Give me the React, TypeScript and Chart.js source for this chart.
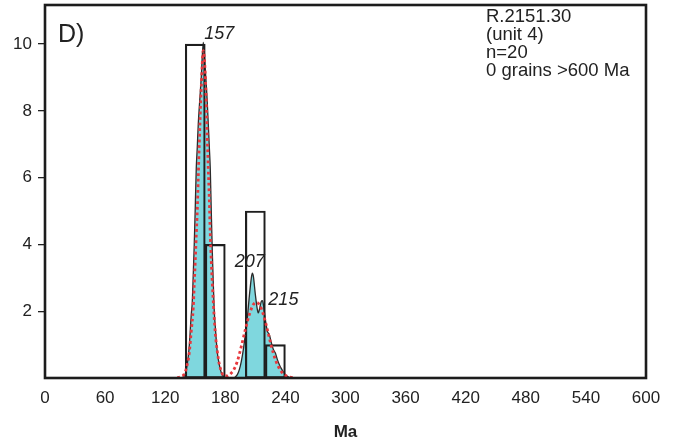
import React, { useEffect, useRef } from 'react';
import { Chart, registerables } from 'chart.js';

Chart.register(...registerables);

// ---- data ----
const xTickValues = [0, 60, 120, 180, 240, 300, 360, 420, 480, 540, 600];
const yTickValues = [2, 4, 6, 8, 10];

const binStarts = [140, 160, 200, 220];
const binWidth = 20;
const binCounts = [10, 4, 5, 1];

const kdeAges = [120, 136, 138, 140, 142, 144, 146, 147, 148, 149, 150, 151, 152, 153, 154, 156, 158, 160, 162, 164, 165, 166, 167, 168, 169, 170, 172, 174, 176, 178, 180, 188, 190, 192, 194, 196, 198, 200, 202, 204, 206, 207, 208, 210, 212, 213, 214, 216, 217, 218, 220, 222, 224, 226, 228, 230, 232, 234, 236, 238, 240, 242, 244, 246, 260];
const kdeValues = [0, 0, 0.03, 0.12, 0.4, 0.95, 1.9, 2.27, 3.1, 4.0, 5.1, 6.27, 6.9, 7.6, 8.1, 9.0, 10.05, 9.25, 8.26, 6.95, 6.27, 5.0, 3.8, 2.85, 2.0, 1.55, 0.77, 0.4, 0.16, 0.05, 0, 0, 0.03, 0.1, 0.25, 0.5, 0.85, 1.3, 1.8, 2.45, 3.0, 3.14, 3.05, 2.5, 2.05, 1.95, 2.05, 2.3, 2.32, 2.2, 1.75, 1.4, 1.3, 1.05, 0.85, 0.75, 0.55, 0.4, 0.28, 0.18, 0.1, 0.05, 0.02, 0, 0];

const pdpAges = [132, 134, 136, 138, 140, 142, 144, 146, 148, 149, 150, 151, 152, 153, 154, 156, 158, 160, 162, 163, 164, 165, 166, 168, 170, 172, 174, 176, 178, 180, 182, 184, 186, 188, 192, 196, 200, 204, 208, 211, 214, 218, 222, 226, 230, 234, 238, 242, 246, 250];
const pdpValues = [0.01, 0.02, 0.04, 0.08, 0.18, 0.4, 0.75, 1.4, 2.1, 2.8, 3.5, 4.27, 5.0, 6.0, 7.0, 8.7, 9.8, 9.1, 7.2, 6.27, 5.4, 4.3, 3.5, 2.3, 1.35, 0.8, 0.42, 0.2, 0.08, 0.07, 0.06, 0.09, 0.15, 0.22, 0.5, 0.95, 1.45, 1.9, 2.2, 2.26, 2.2, 1.9, 1.45, 0.95, 0.55, 0.28, 0.12, 0.05, 0.02, 0.01];

const peakAges = [158, 207, 217];
const peakHeights = [10.05, 3.14, 2.32];
const peakLabels = ['157', '207', '215'];

const panelLabel = 'D)';
const infoLines = ['R.2151.30', '(unit 4)', 'n=20', '0 grains >600 Ma'];
const xTitle = 'Ma';

// ---- styles ----
const FONT = '"Liberation Sans", Arial, Helvetica, sans-serif';
const TEXT = '#222222';

const overlayPlugin = {
  id: 'overlay',
  afterDatasetsDraw(chart: any) {
    const { ctx, chartArea, scales } = chart;
    const xs = scales.x;
    const ys = scales.y;
    ctx.save();
    // frame
    ctx.strokeStyle = '#1c1c1c';
    ctx.lineWidth = 2.6;
    ctx.strokeRect(chartArea.left, chartArea.top, chartArea.right - chartArea.left, chartArea.bottom - chartArea.top);

    ctx.fillStyle = TEXT;
    ctx.textBaseline = 'alphabetic';
    // panel label
    ctx.font = `25px ${FONT}`;
    ctx.textAlign = 'left';
    ctx.fillText(panelLabel, chartArea.left + 13, chartArea.top + 37);

    // info text
    ctx.font = `18.5px ${FONT}`;
    infoLines.forEach((t, i) => {
      ctx.fillText(t, chartArea.left + 441, chartArea.top + 17 + i * 18);
    });

    // peak labels
    ctx.font = `italic 18px ${FONT}`;
    const px0 = xs.getPixelForValue(peakAges[0]);
    const py0 = ys.getPixelForValue(peakHeights[0]);
    ctx.textAlign = 'left';
    ctx.fillText(peakLabels[0], px0 + 1, py0 - 3.5);
    const px1 = xs.getPixelForValue(peakAges[1]);
    const py1 = ys.getPixelForValue(peakHeights[1]);
    ctx.textAlign = 'center';
    ctx.fillText(peakLabels[1], px1 - 2.5, py1 - 6);
    const px2 = xs.getPixelForValue(peakAges[2]);
    const py2 = ys.getPixelForValue(peakHeights[2]);
    ctx.textAlign = 'left';
    ctx.fillText(peakLabels[2], px2 + 6, py2 + 4.5);

    // x title
    ctx.font = `bold 17px ${FONT}`;
    ctx.textAlign = 'center';
    ctx.fillText(xTitle, (chartArea.left + chartArea.right) / 2, chartArea.bottom + 59);
    ctx.restore();
  },
};

export default function App() {
  const ref = useRef<HTMLCanvasElement | null>(null);

  useEffect(() => {
    if (!ref.current) return;
    const kde = kdeAges.map((a, i) => ({ x: a, y: kdeValues[i] }));
    const pdp = pdpAges.map((a, i) => ({ x: a, y: pdpValues[i] }));
    const bars = binStarts.map((s, i) => ({ x: s + binWidth / 2, y: binCounts[i] }));

    const chart = new Chart(ref.current, {
      type: 'line',
      data: {
        datasets: [
          {
            type: 'line',
            data: kde,
            borderColor: '#2b2b2b',
            borderWidth: 1.3,
            backgroundColor: '#7fd7de',
            fill: 'origin',
            pointRadius: 0,
            cubicInterpolationMode: 'monotone',
            order: 3,
          } as any,
          {
            type: 'bar',
            data: bars,
            borderColor: '#1e1e1e',
            borderWidth: 1.5,
            backgroundColor: 'rgba(0,0,0,0)',
            borderSkipped: false,
            barPercentage: 1,
            categoryPercentage: 1,
            grouped: false,
            order: 2,
          } as any,
          {
            type: 'line',
            data: pdp,
            borderColor: '#e8383d',
            borderWidth: 2.8,
            borderDash: [2.8, 2.8],
            fill: false,
            pointRadius: 0,
            cubicInterpolationMode: 'monotone',
            order: 1,
          } as any,
        ],
      },
      options: {
        animation: false,
        responsive: true,
        maintainAspectRatio: false,
        devicePixelRatio: 1,
        layout: { padding: { left: 0, right: 36, top: 5, bottom: 0 } },
        plugins: { legend: { display: false }, tooltip: { enabled: false } },
        scales: {
          x: {
            type: 'linear',
            min: 0,
            max: 600,
            offset: false,
            afterBuildTicks: (s: any) => {
              s.ticks = xTickValues.map((v) => ({ value: v }));
            },
            afterFit: (s: any) => {
              s.height = 70;
              s.paddingLeft = 0;
              s.paddingRight = 0;
            },
            ticks: { font: { family: FONT, size: 17 }, color: TEXT, padding: 10, maxRotation: 0, autoSkip: false },
            grid: { drawOnChartArea: false, drawTicks: false },
            border: { display: false },
          },
          y: {
            type: 'linear',
            min: 0,
            max: 11.17,
            afterBuildTicks: (s: any) => {
              s.ticks = yTickValues.map((v) => ({ value: v }));
            },
            afterFit: (s: any) => {
              s.width = 45;
              s.paddingTop = 0;
              s.paddingBottom = 0;
            },
            ticks: { font: { family: FONT, size: 17 }, color: TEXT, padding: 6 },
            grid: { drawOnChartArea: false, drawTicks: true, tickLength: 7, color: '#222', lineWidth: 1.3 },
            border: { display: false },
          },
        },
      } as any,
      plugins: [overlayPlugin],
    });
    return () => chart.destroy();
  }, []);

  return (
    <div style={{ position: 'absolute', left: 0, top: 0, width: 682, height: 448, background: '#fff' }}>
      <canvas ref={ref} />
    </div>
  );
}
